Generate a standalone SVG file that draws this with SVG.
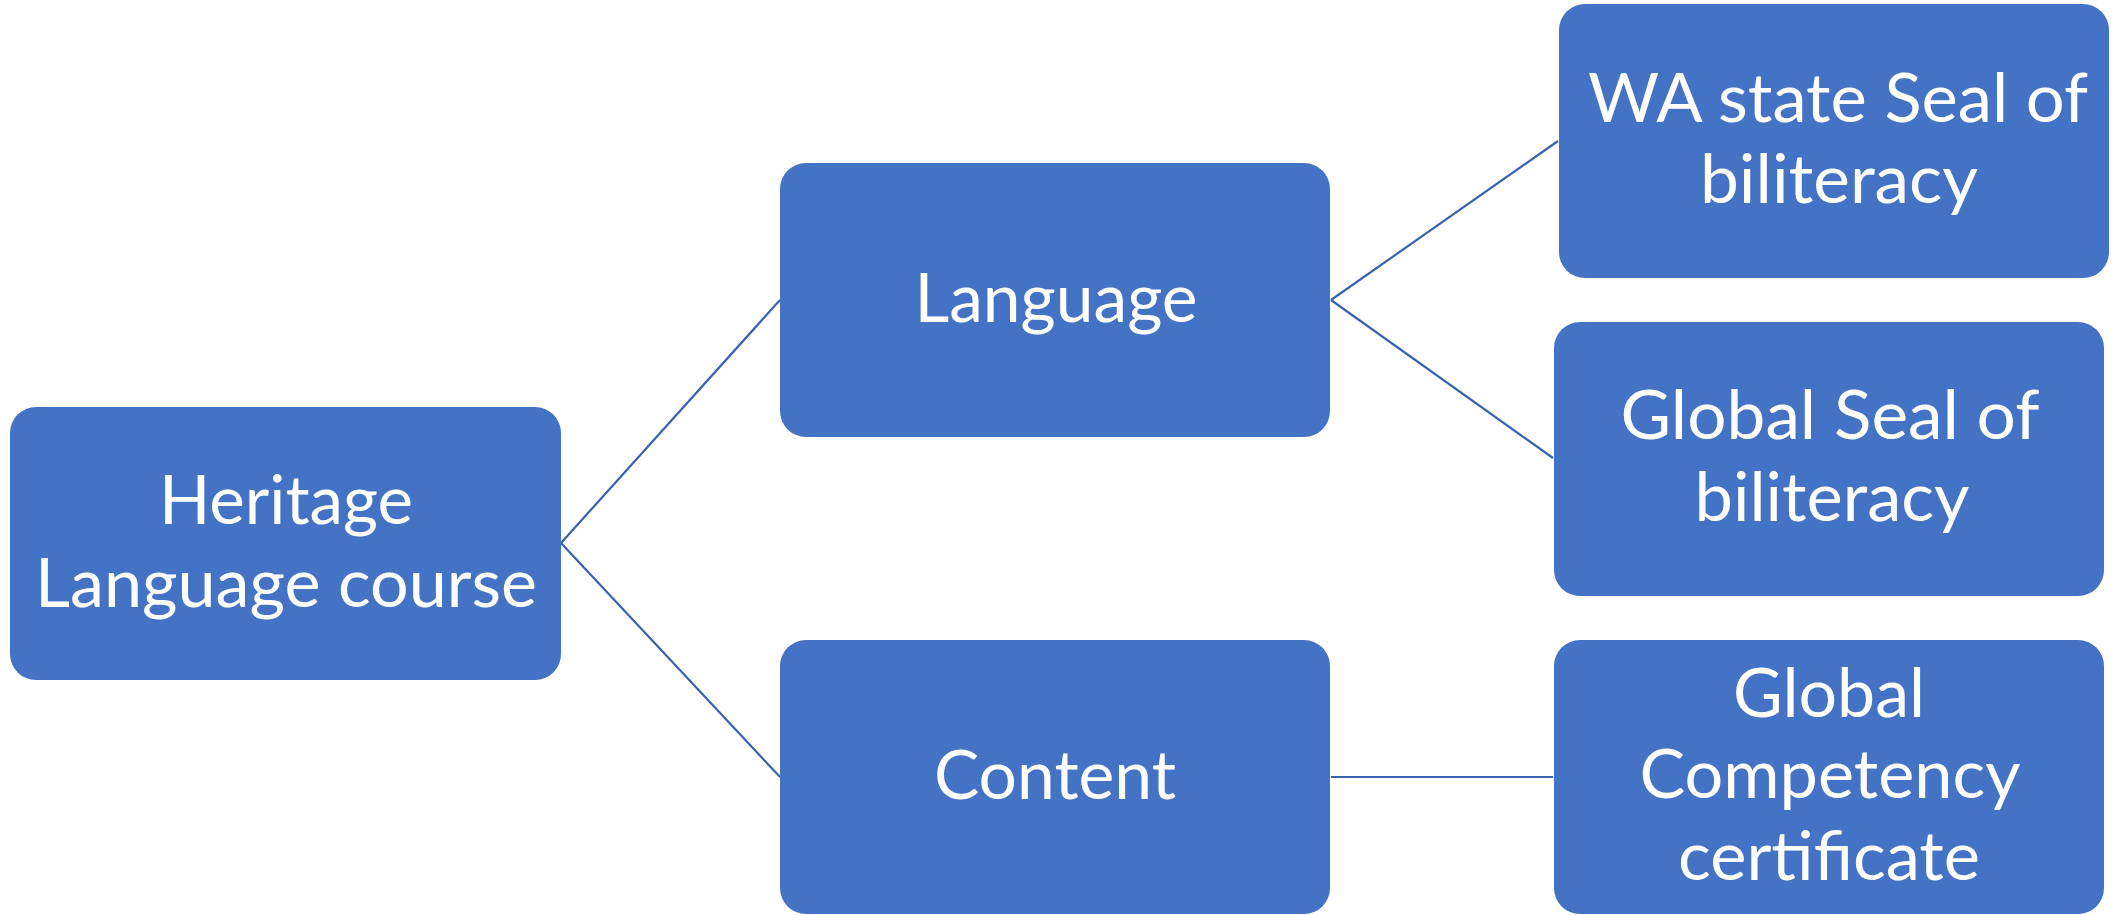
<svg xmlns="http://www.w3.org/2000/svg" width="2117" height="915" viewBox="0 0 2117 915">
<style>
.box{fill:#4472C4;}
.lbl{font-family:Lato,"Open Sans","Liberation Sans",sans-serif;font-size:67px;fill:#FFFFFF;text-anchor:middle;}
.conn{stroke:#3A62AE;stroke-width:2.2;fill:none;}
</style>
<rect width="2117" height="915" fill="#FFFFFF"/>
<g id="connectors">
<line class="conn" x1="561" y1="543" x2="780" y2="300"/>
<line class="conn" x1="561" y1="543" x2="780" y2="777"/>
<line class="conn" x1="1331" y1="300" x2="1558" y2="141"/>
<line class="conn" x1="1331" y1="300" x2="1553" y2="458"/>
<line class="conn" x1="1331" y1="777" x2="1553" y2="777"/>
</g>
<g id="node-heritage">
<rect class="box" x="10" y="407" width="551" height="273" rx="26" ry="26"/>
<text class="lbl" x="286" y="524" textLength="254" lengthAdjust="spacingAndGlyphs">Heritage</text>
<text class="lbl" x="286" y="607" textLength="502" lengthAdjust="spacingAndGlyphs">Language course</text>
</g>
<g id="node-language">
<rect class="box" x="780" y="163" width="550" height="274" rx="26" ry="26"/>
<text class="lbl" x="1056" y="322" textLength="283" lengthAdjust="spacingAndGlyphs">Language</text>
</g>
<g id="node-content">
<rect class="box" x="780" y="640" width="550" height="274" rx="26" ry="26"/>
<text class="lbl" x="1055" y="799" textLength="242" lengthAdjust="spacingAndGlyphs">Content</text>
</g>
<g id="node-wa-seal">
<rect class="box" x="1559" y="4" width="550" height="274" rx="26" ry="26"/>
<text class="lbl" x="1838" y="122" textLength="500" lengthAdjust="spacingAndGlyphs">WA state Seal of</text>
<text class="lbl" x="1839" y="203" textLength="278" lengthAdjust="spacingAndGlyphs">biliteracy</text>
</g>
<g id="node-global-seal">
<rect class="box" x="1554" y="322" width="550" height="274" rx="26" ry="26"/>
<text class="lbl" x="1830" y="439" textLength="419" lengthAdjust="spacingAndGlyphs">Global Seal of</text>
<text class="lbl" x="1832" y="521" textLength="275" lengthAdjust="spacingAndGlyphs">biliteracy</text>
</g>
<g id="node-global-competency">
<rect class="box" x="1554" y="640" width="550" height="274" rx="26" ry="26"/>
<text class="lbl" x="1829" y="717" textLength="192" lengthAdjust="spacingAndGlyphs">Global</text>
<text class="lbl" x="1830" y="798" textLength="381" lengthAdjust="spacingAndGlyphs">Competency</text>
<text class="lbl" x="1829" y="880" textLength="302" lengthAdjust="spacingAndGlyphs">certificate</text>
</g>
</svg>
